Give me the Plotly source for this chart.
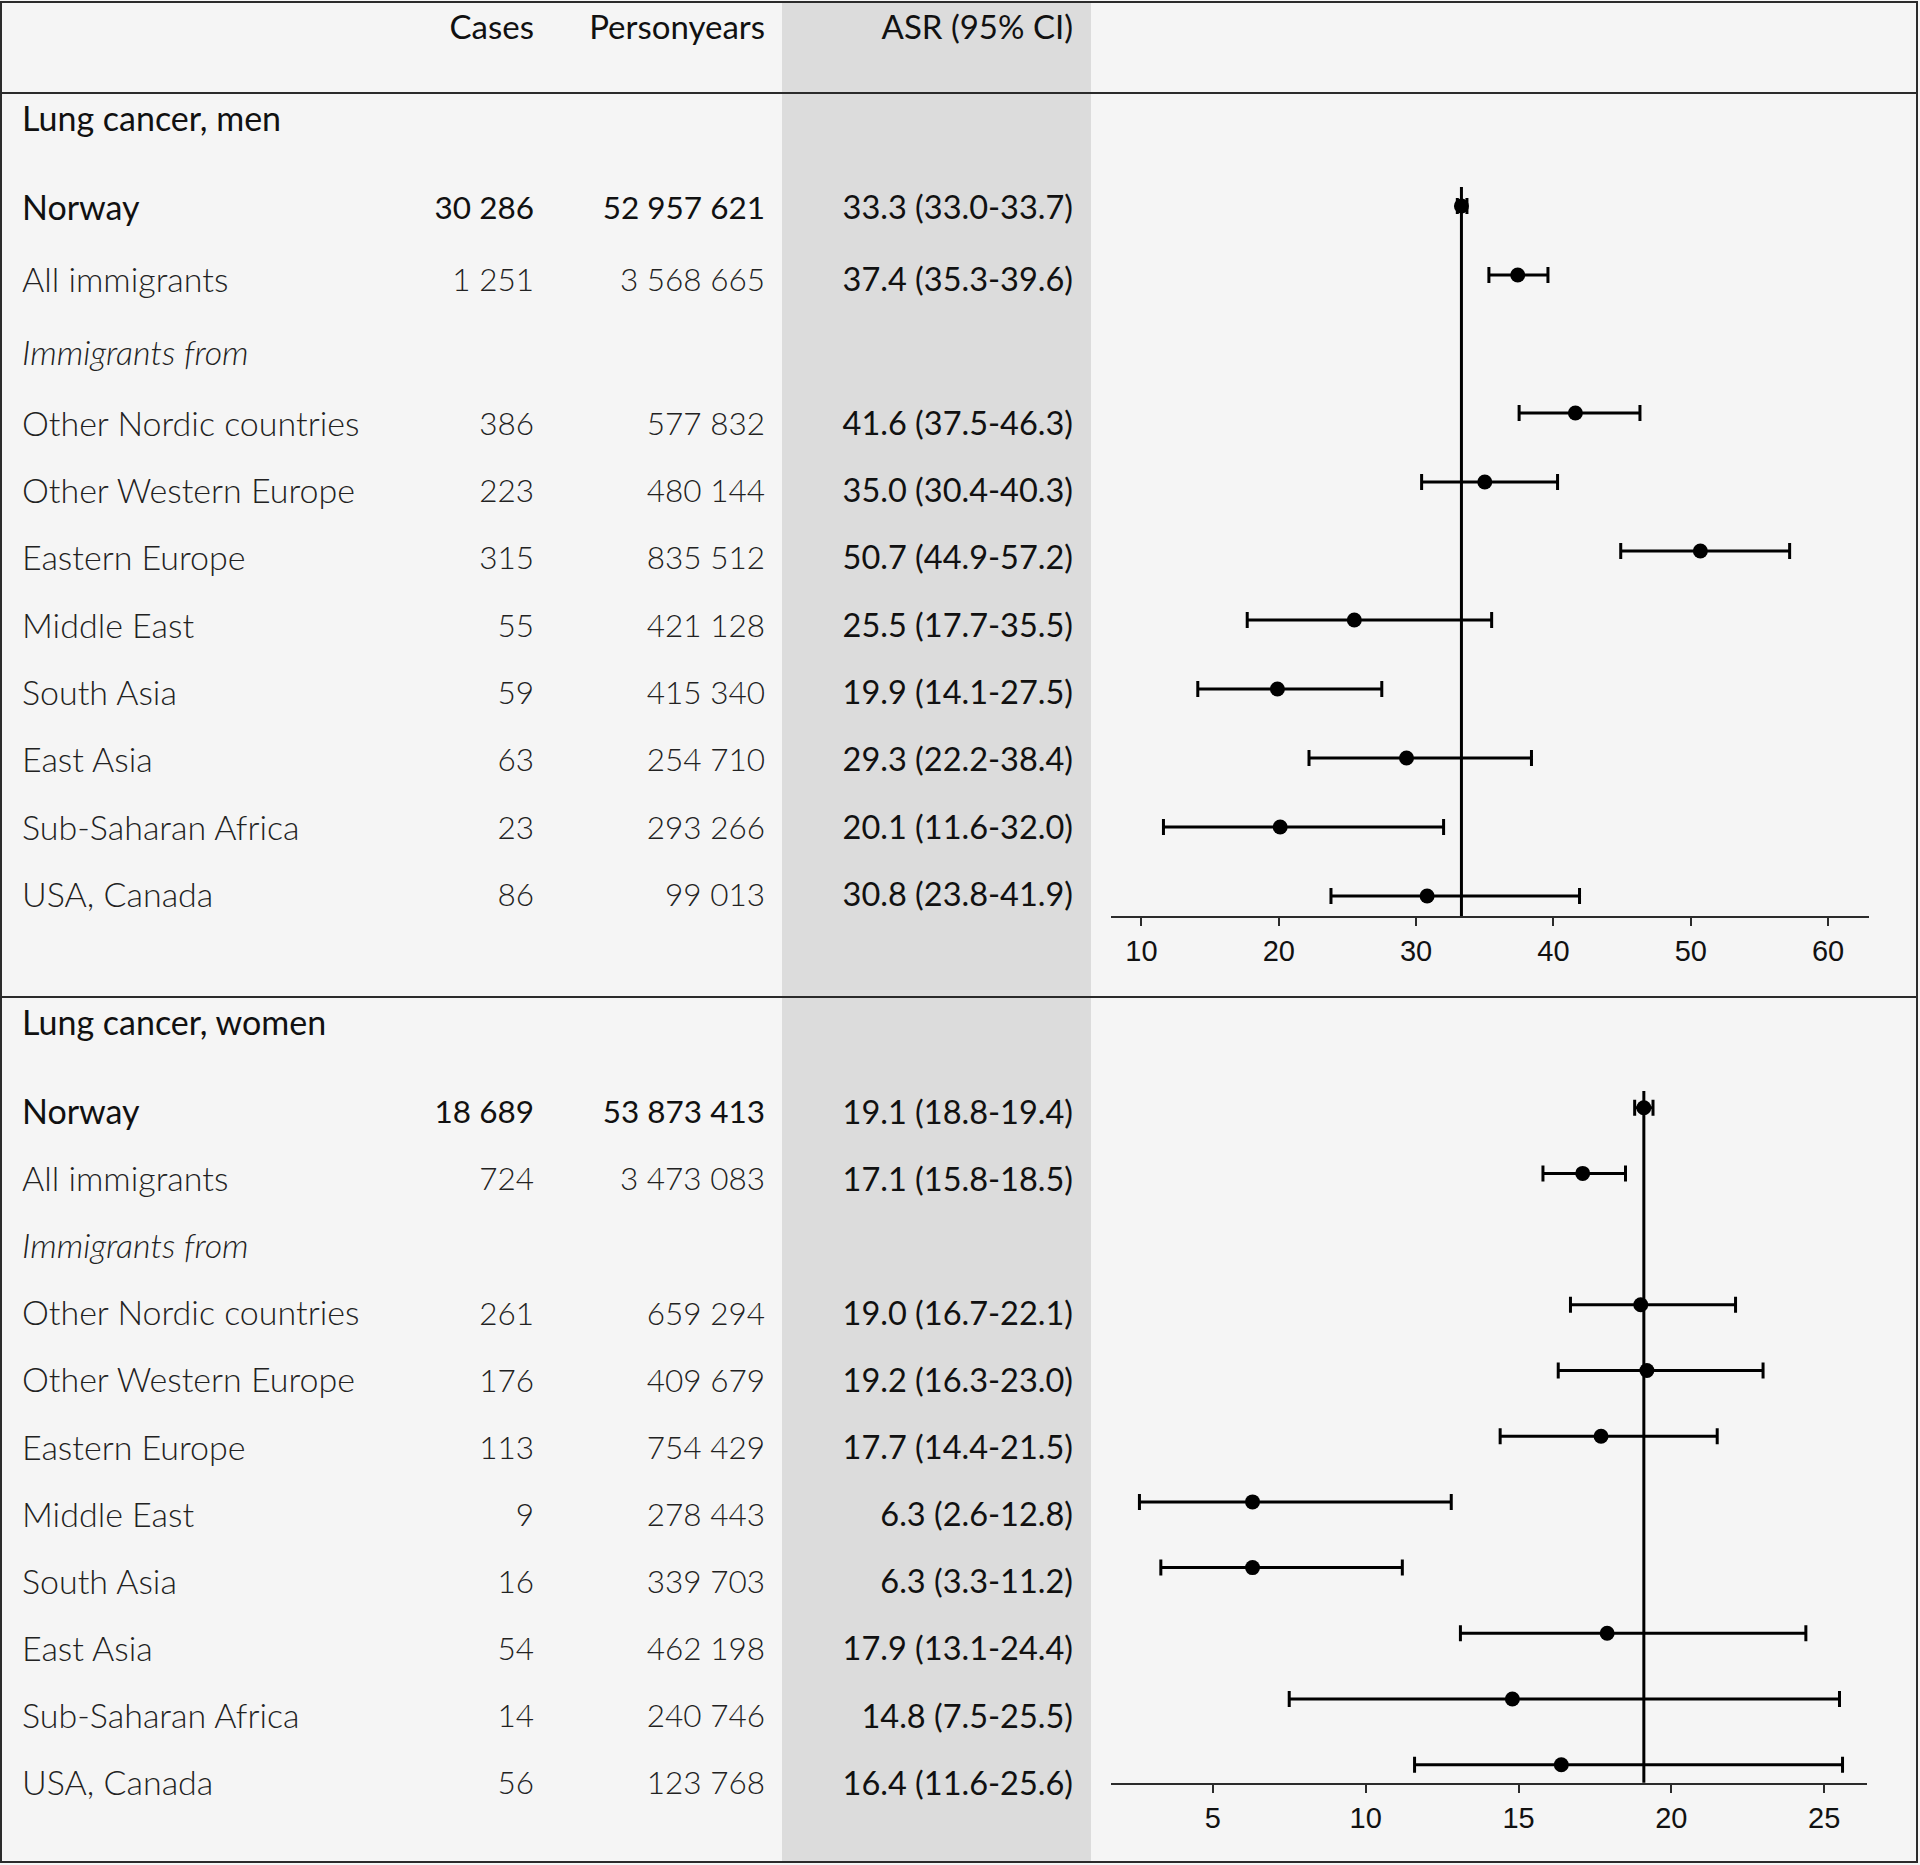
import plotly.graph_objects as go

# ---------------- data ----------------
categories = ["Norway", "All immigrants", "Other Nordic countries", "Other Western Europe",
              "Eastern Europe", "Middle East", "South Asia", "East Asia",
              "Sub-Saharan Africa", "USA, Canada"]
subgroup_heading = "Immigrants from"
column_headers = ["Cases", "Personyears", "ASR (95% CI)"]
panel_titles = ["Lung cancer, men", "Lung cancer, women"]

cases_men = [30286, 1251, 386, 223, 315, 55, 59, 63, 23, 86]
personyears_men = [52957621, 3568665, 577832, 480144, 835512, 421128, 415340, 254710, 293266, 99013]
asr_men = [33.3, 37.4, 41.6, 35.0, 50.7, 25.5, 19.9, 29.3, 20.1, 30.8]
lo_men = [33.0, 35.3, 37.5, 30.4, 44.9, 17.7, 14.1, 22.2, 11.6, 23.8]
hi_men = [33.7, 39.6, 46.3, 40.3, 57.2, 35.5, 27.5, 38.4, 32.0, 41.9]

cases_women = [18689, 724, 261, 176, 113, 9, 16, 54, 14, 56]
personyears_women = [53873413, 3473083, 659294, 409679, 754429, 278443, 339703, 462198, 240746, 123768]
asr_women = [19.1, 17.1, 19.0, 19.2, 17.7, 6.3, 6.3, 17.9, 14.8, 16.4]
lo_women = [18.8, 15.8, 16.7, 16.3, 14.4, 2.6, 3.3, 13.1, 7.5, 11.6]
hi_women = [19.4, 18.5, 22.1, 23.0, 21.5, 12.8, 11.2, 24.4, 25.5, 25.6]

ticks_men = [10, 20, 30, 40, 50, 60]
ticks_women = [5, 10, 15, 20, 25]

# ---------------- layout constants ----------------
W, H = 1920, 1865
BG = "#f5f5f5"
GRAY_COL = "#dcdcdc"
LINE = "#2b2b2b"
TXT_FONT = "Lato, Calibri, 'Open Sans', sans-serif"
SZ_LABEL, SZ_NUM, SZ_ASR, SZ_HEAD = 34, 31.5, 32.5, 33
TICK_FONT = "'Liberation Sans', Arial, sans-serif"

# row index of each category in the forest plot (row 2 is the "Immigrants from" heading)
row_idx = [0, 1] + list(range(3, 11))
heading_row = 2

# table text row layout (pixel rows of the 11 table lines, title and header), per panel
TEXT_ROWS_MEN = [211, 283, 356, 427, 494, 561, 629, 696, 763, 831, 898]
TEXT_ROWS_WOMEN = [1115.5 + 67.1 * k for k in range(11)]
TITLE_ROW_MEN, TITLE_ROW_WOMEN, HEADER_ROW = 122.5, 1026, 30.5


def fmt_int(v):
    return f"{v:,}".replace(",", " ")


def fmt_asr(a, l, h):
    return f"{a:.1f} ({l:.1f}-{h:.1f})"


def ydom(px_top, px_bot):
    return [1 - px_bot / H, 1 - px_top / H]


# column x anchors (pixels on the table axis)
X_LABEL, X_CASES, X_PY, X_ASR = 22, 534, 765, 1073

fig = go.Figure()

panels = [
    dict(cases=cases_men, py=personyears_men, asr=asr_men, lo=lo_men, hi=hi_men,
         xa="x", ya="y", rows=TEXT_ROWS_MEN, title=panel_titles[0],
         title_row=TITLE_ROW_MEN, header_row=HEADER_ROW),
    dict(cases=cases_women, py=personyears_women, asr=asr_women, lo=lo_women, hi=hi_women,
         xa="x2", ya="y2", rows=TEXT_ROWS_WOMEN, title=panel_titles[1],
         title_row=TITLE_ROW_WOMEN, header_row=None),
]

for p in panels:
    # forest plot
    fig.add_trace(go.Scatter(
        x=p["asr"], y=row_idx, xaxis=p["xa"], yaxis=p["ya"], mode="markers",
        marker=dict(symbol="circle", size=15, color="black"),
        error_x=dict(type="data", symmetric=False,
                     array=[h - a for a, h in zip(p["asr"], p["hi"])],
                     arrayminus=[a - l for a, l in zip(p["asr"], p["lo"])],
                     thickness=3, width=8, color="black"),
        hoverinfo="skip", showlegend=False, cliponaxis=False))

    reg = dict(x=[], y=[], t=[], pos=[], sz=[])
    light = dict(x=[], y=[], t=[], pos=[], sz=[])

    def put(b, xx, yy, tt, pos, sz):
        b["x"].append(xx); b["y"].append(yy); b["t"].append(tt); b["pos"].append(pos); b["sz"].append(sz)

    rows = p["rows"]
    for i, name in enumerate(categories):
        r = rows[row_idx[i]]
        b = reg if i == 0 else light
        put(b, X_LABEL, r, name, "middle right", SZ_LABEL)
        put(b, X_CASES, r, fmt_int(p["cases"][i]), "middle left", SZ_NUM)
        put(b, X_PY, r, fmt_int(p["py"][i]), "middle left", SZ_NUM)
        put(reg, X_ASR, r, fmt_asr(p["asr"][i], p["lo"][i], p["hi"][i]), "middle left", SZ_ASR)
    put(light, X_LABEL, rows[heading_row], f"<i>{subgroup_heading}</i>", "middle right", SZ_LABEL)
    put(reg, X_LABEL, p["title_row"], p["title"], "middle right", SZ_LABEL)
    if p["header_row"] is not None:
        for xx, tt in zip([X_CASES, X_PY, X_ASR], column_headers):
            put(reg, xx, p["header_row"], tt, "middle left", SZ_HEAD)

    for b, col, wt in [(light, "#222222", 300), (reg, "#111111", 400)]:
        fig.add_trace(go.Scatter(
            x=b["x"], y=b["y"], text=b["t"], textposition=b["pos"], mode="text",
            xaxis="x3", yaxis="y3", hoverinfo="skip", showlegend=False, cliponaxis=False,
            textfont=dict(family=TXT_FONT, size=b["sz"], color=col, weight=wt)))

    # reference line at the Norway value
    fig.add_shape(type="line", xref=p["xa"], yref=f"{p['ya']} domain",
                  x0=p["asr"][0], x1=p["asr"][0], y0=0, y1=1,
                  line=dict(color="black", width=3), layer="above")

axis_common = dict(showgrid=False, zeroline=False, showline=True, linecolor=LINE, linewidth=2,
                   ticks="outside", ticklen=8, tickwidth=1.5, tickcolor=LINE,
                   tickfont=dict(family=TICK_FONT, size=29, color="#111111"), fixedrange=True)

fig.update_layout(
    width=W, height=H, margin=dict(l=0, r=0, t=0, b=0),
    paper_bgcolor=BG, plot_bgcolor="rgba(0,0,0,0)", showlegend=False,
    xaxis=dict(domain=[1111 / W, 1869 / W], range=[7.78, 62.98], anchor="y",
               tickvals=ticks_men, **axis_common),
    yaxis=dict(domain=ydom(187, 916), range=[(916 - 206) / 69, (187 - 206) / 69],
               visible=False, anchor="x", fixedrange=True),
    xaxis2=dict(domain=[1111 / W, 1867 / W], range=[1.67, 26.4], anchor="y2",
                tickvals=ticks_women, **axis_common),
    yaxis2=dict(domain=ydom(1091, 1782.7), range=[(1782.7 - 1107.7) / 65.7, (1091 - 1107.7) / 65.7],
                visible=False, anchor="x2", fixedrange=True),
    xaxis3=dict(domain=[0, 1], range=[0, W], visible=False, anchor="y3", fixedrange=True),
    yaxis3=dict(domain=[0, 1], range=[H, 0], visible=False, anchor="x3", fixedrange=True),
)

# table decorations: shaded ASR column, frame, separators
fig.add_shape(type="rect", xref="paper", yref="paper", x0=782 / W, x1=1091 / W,
              y0=1 - 1862 / H, y1=1 - 2 / H, fillcolor=GRAY_COL, line=dict(width=0), layer="below")
fig.add_shape(type="rect", xref="paper", yref="paper", x0=1 / W, x1=1917 / W,
              y0=1 - 1862 / H, y1=1 - 2 / H, line=dict(color=LINE, width=2), layer="above")
for ypx in (93, 997):
    fig.add_shape(type="line", xref="paper", yref="paper", x0=1 / W, x1=1917 / W,
                  y0=1 - ypx / H, y1=1 - ypx / H, line=dict(color=LINE, width=2), layer="above")

fig.write_html("out.html", config={"displayModeBar": False},
               post_script="document.body.style.margin='0px';document.body.style.background='%s';" % BG)
